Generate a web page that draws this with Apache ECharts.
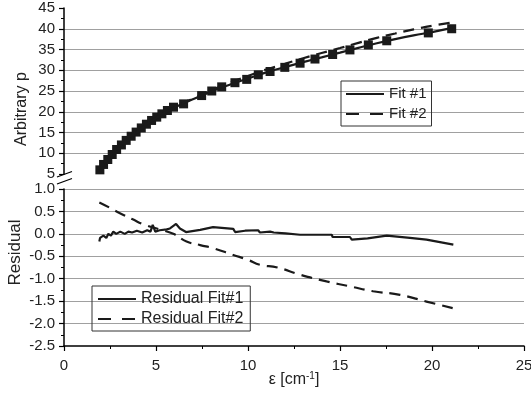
<!DOCTYPE html>
<html>
<head>
<meta charset="utf-8">
<script src="https://cdn.jsdelivr.net/npm/echarts@6/dist/echarts.min.js"></script>
<style>
  html, body { margin: 0; padding: 0; background: #fff; }
  #chart { width: 531px; height: 403px; }
</style>
</head>
<body>
<div id="chart"></div>
<script>
// measured points (square markers)
const dataX = [1.95, 2.15, 2.38, 2.62, 2.86, 3.12, 3.38, 3.65, 3.92, 4.2, 4.48, 4.76, 5.04, 5.32, 5.62, 5.95, 6.5,
  7.48, 8.03, 8.57, 9.29, 9.93, 10.56, 11.2, 12.0, 12.83, 13.64, 14.6, 15.54, 16.54, 17.54, 19.8, 21.07]
const dataY = [6.0, 7.3, 8.5, 9.7, 10.9, 12.0, 13.1, 14.1, 15.1, 16.1, 17.0, 17.9, 18.7, 19.5, 20.3, 21.1, 21.9,
  23.9, 25.0, 26.0, 27.0, 27.8, 28.9, 29.7, 30.7, 31.7, 32.7, 33.8, 34.9, 36.1, 37.1, 39.0, 40.0]

// fit curves
const fitX = [1.92, 2.5, 3, 3.5, 4, 4.5, 5, 6, 7, 8, 9, 10, 11, 12, 13, 14, 15, 16, 17, 18, 19, 20, 21.1]
const fit1Y = [6.0, 9.2, 11.5, 13.6, 15.4, 17.0, 18.55, 21.0, 23.0, 24.85, 26.5, 28.0, 29.5, 30.75, 31.95, 33.1,
  34.25, 35.4, 36.5, 37.5, 38.4, 39.2, 40.2]
const fit2Y = [5.3, 8.6, 11.0, 13.2, 15.1, 16.8, 18.4, 21.0, 23.2, 25.15, 26.95, 28.6, 30.2, 31.55, 32.9, 34.15,
  35.35, 36.6, 37.8, 38.85, 39.85, 40.7, 41.5]

// residuals
const res1X = [1.92, 1.96, 2.0, 2.14, 2.3, 2.41, 2.55, 2.68, 2.84, 3.06, 3.3, 3.5, 3.7, 3.96, 4.25, 4.52, 4.7, 4.82,
  4.96, 5.2, 5.58, 5.76, 6.09, 6.3, 6.63, 7.4, 8.1, 9.2, 9.3, 9.84, 10.55, 10.65, 11.2, 11.4, 12.04, 12.83, 13.37,
  14.55, 14.6, 15.54, 15.64, 16.5, 17.54, 18.8, 19.7, 21.16]
const res1Y = [-0.17, -0.09, -0.13, -0.04, -0.09, 0.0, -0.04, 0.05, 0.0, 0.05, 0.0, 0.05, 0.03, 0.07, 0.03, 0.08,
  0.05, 0.2, 0.05, 0.08, 0.1, 0.12, 0.22, 0.12, 0.04, 0.09, 0.15, 0.11, 0.04, 0.07, 0.08, 0.03, 0.05, 0.03, 0.01,
  -0.02, -0.02, -0.02, -0.07, -0.07, -0.13, -0.1, -0.04, -0.09, -0.13, -0.24]
const res2X = [1.92, 2.5, 3.04, 3.7, 4.4, 5.2, 5.94, 6.66, 7.4, 8.11, 9.2, 10.0, 10.65, 11.6, 12.83, 14.27, 15.54,
  16.8, 18.26, 19.7, 21.16]
const res2Y = [0.70, 0.58, 0.46, 0.33, 0.20, 0.10, 0.0, -0.17, -0.25, -0.32, -0.47, -0.58, -0.69, -0.75, -0.91,
  -1.06, -1.17, -1.28, -1.36, -1.51, -1.66]

const zip = (xs, ys) => xs.map((x, i) => [x, ys[i]])

const ink = '#1a1a1a'
const font = '"Liberation Sans", Arial, sans-serif'
const dash = [11, 7]
const legendDash = { type: [13, 11], width: 2 }

const axisCommon = {
  axisLine: { show: true, onZero: false, lineStyle: { color: '#000', width: 1.5 } },
  axisTick: { show: true, length: 5, lineStyle: { color: '#000', width: 1.2 } },
  minorTick: { show: true, splitNumber: 2, length: 3, lineStyle: { color: '#000', width: 1 } },
  axisLabel: { color: '#222', fontSize: 15, fontFamily: font, margin: 9 },
  nameMoveOverlap: false
}

const legendCommon = {
  orient: 'vertical', itemGap: 4, itemWidth: 38, itemHeight: 16,
  borderColor: '#333', borderWidth: 1,
  itemStyle: { opacity: 0 },
  lineStyle: { width: 2 }
}

const chart = echarts.init(document.getElementById('chart'))
chart.setOption({
  animation: false,
  backgroundColor: '#fff',
  grid: [
    { left: 64, right: 7, top: 8, height: 166, outerBoundsMode: 'none', containLabel: false },
    { left: 64, right: 7, top: 189, height: 157, outerBoundsMode: 'none', containLabel: false }
  ],
  legend: [
    {
      ...legendCommon,
      data: ['Fit #1', { name: 'Fit #2', lineStyle: legendDash }],
      left: 341, top: 81, padding: [5, 5, 4, 4],
      textStyle: { fontSize: 15, lineHeight: 16, color: '#222', fontFamily: font }
    },
    {
      ...legendCommon,
      data: ['Residual Fit#1', { name: 'Residual Fit#2', lineStyle: legendDash }],
      left: 92, top: 286, padding: [5, 7, 4, 5],
      textStyle: { fontSize: 16, lineHeight: 16, color: '#222', fontFamily: font }
    }
  ],
  xAxis: [
    { gridIndex: 0, type: 'value', min: 0, max: 25, interval: 5, show: false },
    {
      gridIndex: 1, type: 'value', min: 0, max: 25, interval: 5, ...axisCommon,
      axisLabel: { ...axisCommon.axisLabel, margin: 12 },
      splitLine: { show: false },
      name: 'ε [cm{sup|-1}]', nameLocation: 'middle', nameGap: 25,
      nameTextStyle: {
        fontSize: 16, color: '#222', fontFamily: font,
        rich: { sup: { fontSize: 10, verticalAlign: 'top', padding: [0, 0, 8, 0], fontFamily: font, color: '#222' } }
      }
    }
  ],
  yAxis: [
    {
      gridIndex: 0, type: 'value', min: 5, max: 45, interval: 5, ...axisCommon,
      splitLine: { show: true, showMinLine: false, showMaxLine: false, lineStyle: { color: '#a0a0a0', width: 1.2 } },
      name: 'Arbitrary p', nameLocation: 'middle', nameGap: 34,
      nameTextStyle: { fontSize: 16, color: '#222', fontFamily: font, padding: [0, 36, 0, 0] }
    },
    {
      gridIndex: 1, type: 'value', min: -2.5, max: 1.0, interval: 0.5, ...axisCommon,
      axisLabel: { ...axisCommon.axisLabel, formatter: (v) => v.toFixed(1) },
      splitLine: { show: true, showMinLine: false, showMaxLine: true, lineStyle: { color: '#a0a0a0', width: 1.2 } },
      name: 'Residual', nameLocation: 'middle', nameGap: 40,
      nameTextStyle: { fontSize: 17, color: '#222', fontFamily: font, padding: [0, 0, 0, 30] }
    }
  ],
  series: [
    {
      name: 'Fit #1', type: 'line', xAxisIndex: 0, yAxisIndex: 0, smooth: true, symbol: 'none',
      data: zip(fitX, fit1Y), lineStyle: { color: ink, width: 2.2 }, itemStyle: { color: ink }
    },
    {
      name: 'Data', type: 'scatter', xAxisIndex: 0, yAxisIndex: 0, symbol: 'rect', symbolSize: 9,
      data: zip(dataX, dataY), itemStyle: { color: ink, opacity: 1 }
    },
    {
      name: 'Fit #2', type: 'line', xAxisIndex: 0, yAxisIndex: 0, smooth: true, symbol: 'none',
      data: zip(fitX, fit2Y), lineStyle: { color: ink, width: 2.2, type: dash }, itemStyle: { color: ink }
    },
    {
      name: 'Residual Fit#1', type: 'line', xAxisIndex: 1, yAxisIndex: 1, symbol: 'none',
      data: zip(res1X, res1Y), lineStyle: { color: ink, width: 2.2 }, itemStyle: { color: ink }
    },
    {
      name: 'Residual Fit#2', type: 'line', xAxisIndex: 1, yAxisIndex: 1, symbol: 'none', smooth: true,
      data: zip(res2X, res2Y), lineStyle: { color: ink, width: 2.2, type: dash }, itemStyle: { color: ink }
    }
  ],
  // axis break mark between the two panels
  graphic: [
    { type: 'rect', shape: { x: 60, y: 175, width: 8, height: 12 }, style: { fill: '#fff' }, z: 100 },
    { type: 'line', shape: { x1: 57, y1: 177, x2: 72, y2: 171.5 }, style: { stroke: '#000', lineWidth: 1.3 }, z: 101 },
    { type: 'line', shape: { x1: 57, y1: 184, x2: 72, y2: 178.5 }, style: { stroke: '#000', lineWidth: 1.3 }, z: 101 }
  ]
})

window.addEventListener('resize', () => chart.resize())
</script>
</body>
</html>
